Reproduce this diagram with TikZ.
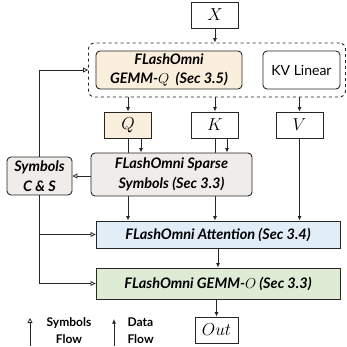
\documentclass[tikz,border=0pt]{standalone}
\usepackage{fontspec}
\setmainfont{Lato}
\usetikzlibrary{arrows.meta,calc,backgrounds}

\definecolor{qbeige}{HTML}{FAEEDD}
\definecolor{symgray}{HTML}{EFECE9}
\definecolor{attblue}{HTML}{E1EDF7}
\definecolor{gemmgreen}{HTML}{DEEBD5}

\begin{document}
\begin{tikzpicture}[
		x=1pt, y=-1pt,
		box/.style={rectangle, draw=black!85, line width=0.9pt, inner sep=0pt, align=center},
		rbox/.style={box, rounded corners=4pt},
		bi/.style={font=\fontsize{14.5}{19.5}\selectfont\bfseries\itshape},
		mathbox/.style={box, minimum width=47pt, minimum height=26pt, font=\fontsize{19}{20}\selectfont},
		data/.style={line width=0.8pt, draw=black!85, -{Latex[length=4.5pt,width=4pt]}},
		symb/.style={line width=0.8pt, draw=black!85, -{Triangle[open,length=5pt,width=5pt]}},
		legend/.style={font=\fontsize{12}{17}\selectfont\bfseries, align=center}
		]
		\useasboundingbox (0,0) rectangle (346,347);
		
		\node (X) at (215,15) [mathbox] {$X$};
		
		% linear projections
		\node (lin) at (217,70) [box, rounded corners=6pt, dashed, minimum width=257pt, minimum height=54pt] {};
		\node (gemmq) at (169,70) [rbox, bi, fill=qbeige, minimum width=146pt, minimum height=38pt] {FLashOmni\\GEMM-$Q$ \ (Sec 3.5)};
		\node (kv) at (301.5,70) [rbox, font=\fontsize{14}{15}\selectfont, minimum width=77pt, minimum height=38pt] {KV Linear};
		
		\node (Q) at (128,125) [mathbox, fill=qbeige] {$Q$};
		\node (K) at (215,125) [mathbox] {$K$};
		\node (V) at (299.5,125) [mathbox] {$V$};
		
		\node (sparse) at (171.5,174.5) [rbox, bi, fill=symgray, minimum width=161pt, minimum height=43pt] {FLashOmni Sparse\\Symbols (Sec 3.3)};
		\node (sym) at (39.5,176) [rbox, bi, fill=symgray, minimum width=65pt, minimum height=38pt] {Symbols\\C \& S};
		
		\node (attn) at (218,234.5) [box, bi, fill=attblue, minimum width=244pt, minimum height=27pt] {FLashOmni Attention (Sec 3.4)};
		\node (gemmo) at (218,283.5) [box, bi, fill=gemmgreen, minimum width=244pt, minimum height=31pt] {FLashOmni GEMM-$O$ (Sec 3.3)};
		\node (out) at (216.5,330) [mathbox, minimum width=43pt] {$Out$};
		
		% data flow
		\draw [data] (X.south) -- (X.south |- lin.north);
		\draw [data] (Q.north |- lin.south) -- (Q.north);
		\draw [data] (K.north |- lin.south) -- (K.north);
		\draw [data] (V.north |- lin.south) -- (V.north);
		\begin{scope}[on background layer]
			\draw [data] (Q.south) -- (Q.south |- attn.north);
			\draw [data] (K.south) -- (K.south |- attn.north);
		\end{scope}
		\draw [data] ($(Q.south)+(13,0)$) -- ($(Q.south |- sparse.north)+(13,0)$);
		\draw [data] ($(K.south)+(12,0)$) -- ($(K.south |- sparse.north)+(12,0)$);
		\draw [data] (V.south) -- (V.south |- attn.north);
		\draw [data] (attn.south -| gemmo.north) -- (gemmo.north);
		\draw [data] (gemmo.south -| out.north) -- (out.north);
		
		% symbols flow
		\draw [symb] (sparse.west |- sym.east) -- (sym.east);
		\draw [symb] (sym.north) |- (lin.west);
		\draw [symb] (sym.south) |- (attn.west);
		\draw [symb] (sym.south) |- (gemmo.west);
		
		% legend
		\coordinate (s0) at (30,346);
		\coordinate (s1) at (30,318);
		\coordinate (d0) at (114,346);
		\coordinate (d1) at (114,319);
		\draw [symb] (s0) -- (s1);
		\draw [data] (d0) -- (d1);
		\node (slab) at (69,331) [legend] {Symbols\\Flow};
		\node (dlab) at (124,331) [legend, anchor=west, align=left] {Data\\Flow};
	\end{tikzpicture}
\end{document}
